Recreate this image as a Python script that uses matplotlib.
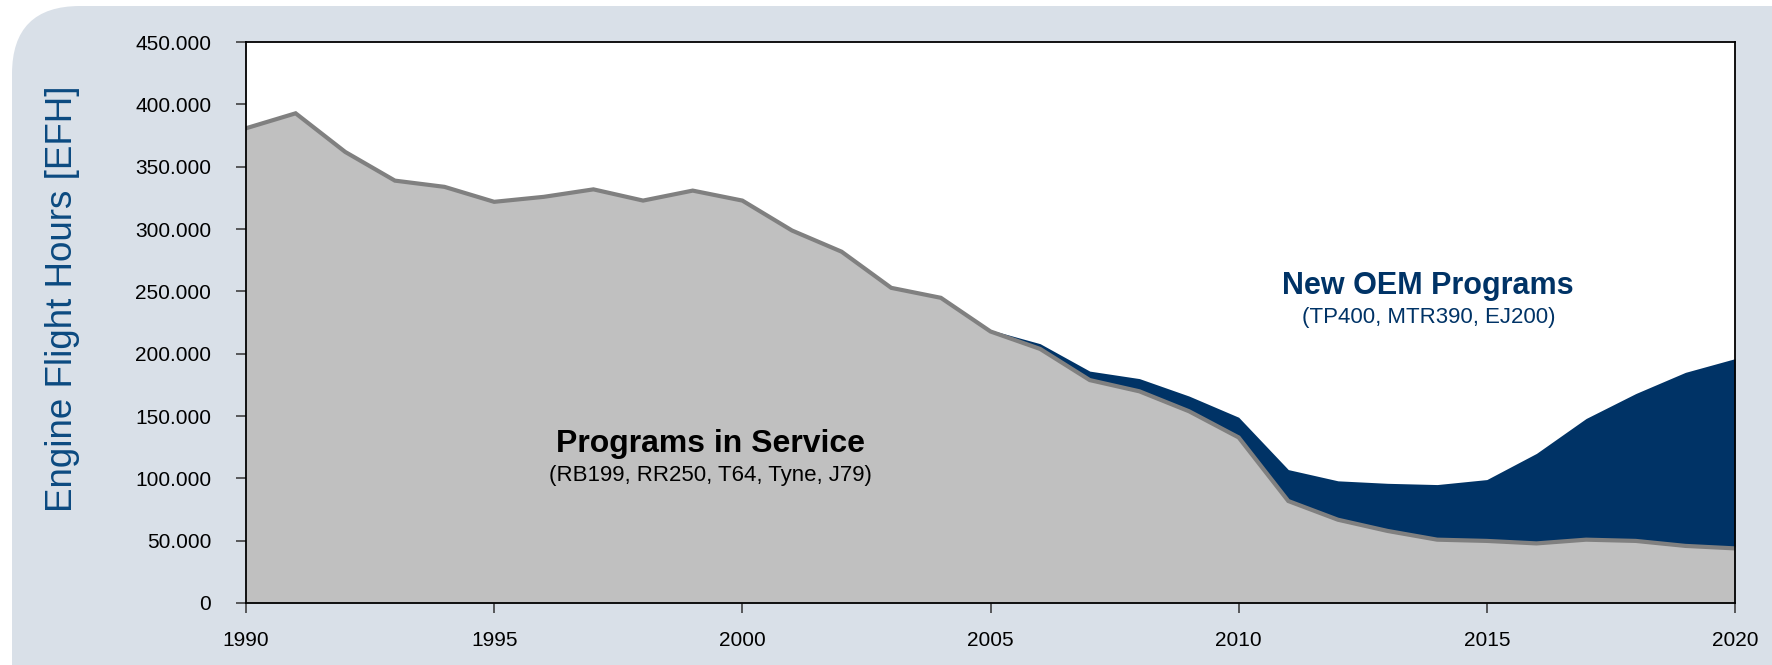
import numpy as np
import matplotlib.pyplot as plt
from matplotlib.patches import FancyBboxPatch
from matplotlib.ticker import FuncFormatter

plt.rcParams['font.family'] = ['Liberation Sans', 'DejaVu Sans']

# engine flight hours per year (thousands)
years = list(range(1990, 2021))
in_service = [382, 394, 363, 340, 335, 323, 327, 333, 324, 332,
              324, 300, 283, 254, 246, 219, 205, 180, 171, 155,
              134, 83, 68, 59, 52, 51, 49, 52, 51, 47, 45]
new_oem = [0, 0, 0, 0, 0, 0, 0, 0, 0, 0,
           0, 0, 0, 0, 0, 0, 3, 6, 9, 11,
           15, 24, 30, 37, 43, 48, 71, 96, 117, 138, 151]
y_ticks = list(range(0, 450001, 50000))
x_ticks = [1990, 1995, 2000, 2005, 2010, 2015, 2020]

service = np.array(in_service) * 1000
total = service + np.array(new_oem) * 1000

W, H = 1772, 665
fig = plt.figure(figsize=(W / 100, H / 100), dpi=100)
fig.patch.set_facecolor('white')

# rounded background panel (only the top-left corner is visible)
bg = FancyBboxPatch((12, -100), W + 200, H - 6 + 100,
                    boxstyle='round,pad=0,rounding_size=68',
                    transform=None, facecolor='#D9E0E8', edgecolor='none',
                    zorder=-5)
fig.patches.append(bg)

ax = fig.add_axes([246 / W, 1 - 603 / H, (1735 - 246) / W, (603 - 42) / H])
ax.set_facecolor('white')

ax.fill_between(years, 0, service, color='#C0C0C0', lw=0, zorder=2)
ax.fill_between(years, service, total, color='#003366', lw=0, zorder=2)
ax.plot(years, service - 1200, color='#808080', lw=3, zorder=3,
        solid_joinstyle='miter')

ax.set_xlim(1990, 2020)
ax.set_ylim(0, 450000)
ax.set_xticks(x_ticks)
ax.set_yticks(y_ticks)
ax.yaxis.set_major_formatter(
    FuncFormatter(lambda v, p: '{:,.0f}'.format(v).replace(',', '.')))
ax.tick_params(axis='both', labelsize=15, color='#404040', length=7,
               width=1.2, direction='out')
ax.tick_params(axis='x', pad=13)
ax.tick_params(axis='y', pad=18)
for s in ax.spines.values():
    s.set_color('black')
    s.set_linewidth(1.3)
    s.set_zorder(4)

ax.set_ylabel('Engine Flight Hours [EFH]', fontsize=26.5, color='#0B4A80')
ax.yaxis.set_label_coords(-0.1115, 0.542)

ax.text(1999.35, 121000, 'Programs in Service', ha='center', va='baseline',
        fontsize=23, fontweight='bold', color='black', zorder=5)
ax.text(1999.35, 98000, '(RB199, RR250, T64, Tyne, J79)', ha='center',
        va='baseline', fontsize=16, color='black', zorder=5)
ax.text(2013.82, 248000, 'New OEM Programs', ha='center', va='baseline',
        fontsize=22, fontweight='bold', color='#003366', zorder=5)
ax.text(2013.82, 224600, '(TP400, MTR390, EJ200)', ha='center',
        va='baseline', fontsize=16, color='#003366', zorder=5)

fig.savefig('out.png', dpi=100, facecolor=fig.get_facecolor())
